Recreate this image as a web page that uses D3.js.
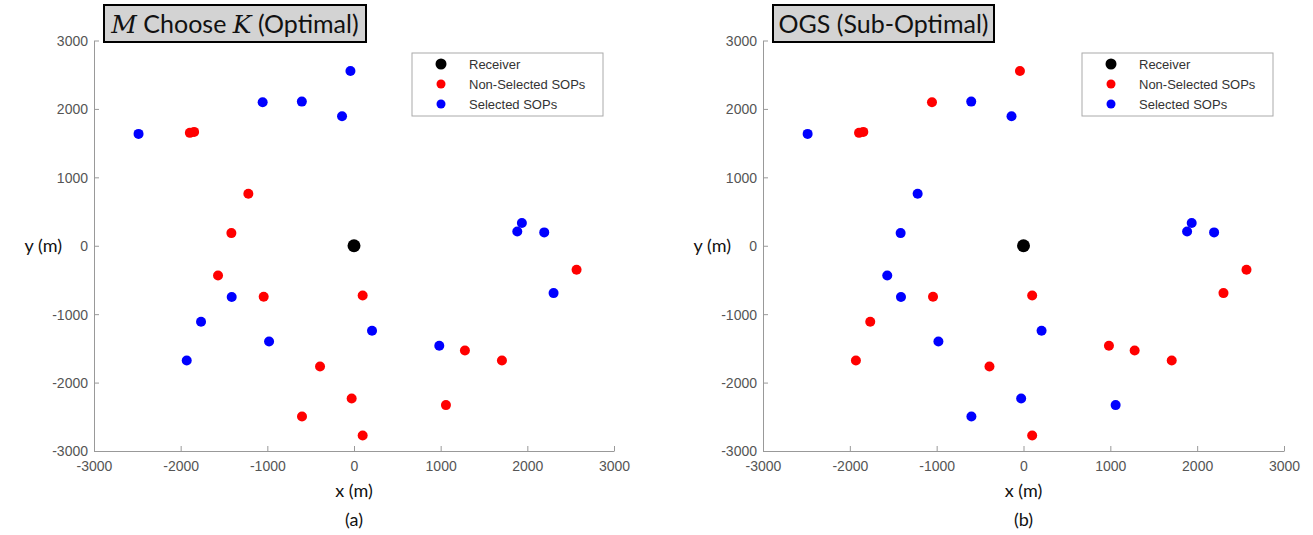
<!DOCTYPE html>
<html>
<head>
<meta charset="utf-8">
<title>SOP selection</title>
<script src="https://cdn.jsdelivr.net/npm/d3@7"></script>
<style>
  body { margin: 0; background: #fff; }
  .tick text { font-family: "Liberation Sans", Arial, sans-serif; font-size: 14px; fill: #555; }
  .lbl { font-family: Lato, "Open Sans", sans-serif; font-size: 18px; fill: #111; }
  .leg { font-family: "Liberation Sans", Arial, sans-serif; font-size: 13px; fill: #333; }
</style>
</head>
<body>
<div id="chart"></div>
<script>
// SOP positions (m), same in both panels
var sopX = [-2486, -1894, -1845, -1054, -602, -138, -41, -1219, -1415, -1569, -1411, -1042,
            -1765, -980, -1930, -392, -600, -27, 100, 100, 208, 984, 1280, 1707, 1061,
            1937, 1884, 2195, 2303, 2568];
var sopY = [1635, 1650, 1664, 2098, 2107, 1893, 2555, 760, 185, -434, -750, -746,
            -1111, -1399, -1677, -1764, -2495, -2232, -2773, -726, -1243, -1462, -1530, -1677, -2329,
            332, 209, 195, -692, -351];
// 1 = selected, 0 = not selected
var selOptimal = [1, 0, 0, 1, 1, 1, 1, 0, 0, 0, 1, 0,
                  1, 1, 1, 0, 0, 0, 0, 0, 1, 1, 0, 0, 0,
                  1, 1, 1, 1, 0];
var selOGS     = [1, 0, 0, 0, 1, 1, 0, 1, 1, 1, 1, 0,
                  0, 1, 0, 0, 1, 1, 0, 0, 1, 0, 0, 0, 1,
                  1, 1, 1, 0, 0];
var receiver = [0, 0];
var ticks = [-3000, -2000, -1000, 0, 1000, 2000, 3000];
var legendLabels = ["Receiver", "Non-Selected SOPs", "Selected SOPs"];
var legendColors = ["#000000", "#ff0000", "#0000ff"];

var w = 1313, h = 535;
var svg = d3.select("#chart").append("svg").attr("width", w).attr("height", h);

function panel(left, right, sel, title, caption, boxX, boxW) {
  var x = d3.scaleLinear().domain([-3000, 3000]).range([left, right]);
  var y = d3.scaleLinear().domain([-3000, 3000]).range([451, 40.5]);
  var g = svg.append("g");
  var fmt = function(d) { return String(d); };

  var xa = g.append("g").attr("transform", "translate(0,451)")
    .call(d3.axisBottom(x).tickValues(ticks).tickSize(-5).tickSizeOuter(0).tickPadding(10).tickFormat(fmt));
  var ya = g.append("g").attr("transform", "translate(" + left + ",0)")
    .call(d3.axisLeft(y).tickValues(ticks).tickSize(-5).tickSizeOuter(0).tickPadding(6).tickFormat(fmt));
  [xa, ya].forEach(function(a) {
    a.select(".domain").attr("stroke", "#999");
    a.selectAll(".tick line").attr("stroke", "#999");
  });
  ya.selectAll(".tick text").attr("dy", "0.35em");

  // points
  g.selectAll("circle.sop").data(sopX).enter().append("circle")
    .attr("class", "sop")
    .attr("cx", function(d) { return x(d); })
    .attr("cy", function(d, i) { return y(sopY[i]); })
    .attr("r", 5)
    .attr("fill", function(d, i) { return sel[i] ? "#0000ff" : "#ff0000"; });
  g.append("circle").attr("cx", x(receiver[0])).attr("cy", y(receiver[1])).attr("r", 6.5).attr("fill", "#000");

  // axis labels
  g.append("text").attr("class", "lbl").attr("x", x(0)).attr("y", 497).attr("text-anchor", "middle").text("x (m)");
  g.append("text").attr("class", "lbl").attr("x", x(0)).attr("y", 526).attr("text-anchor", "middle").text(caption);
  g.append("text").attr("class", "lbl").attr("x", left - 32).attr("y", 252).attr("text-anchor", "end").text("y (m)");

  // title box
  g.append("rect").attr("x", boxX).attr("y", 5).attr("width", boxW).attr("height", 37)
    .attr("fill", "#d3d3d3").attr("stroke", "#000").attr("stroke-width", 2);
  var t = g.append("text").attr("class", "lbl").style("font-size", "25px")
    .attr("x", boxX + boxW / 2).attr("y", 33).attr("text-anchor", "middle");
  title.forEach(function(p) {
    var s = t.append("tspan").text(p.t);
    if (p.it) s.style("font-family", "'DejaVu Serif', serif").style("font-style", "italic");
  });

  // legend
  var lx = right - 202, ly = 53;
  g.append("rect").attr("x", lx).attr("y", ly).attr("width", 191).attr("height", 63)
    .attr("fill", "#fff").attr("stroke", "#aaa");
  legendLabels.forEach(function(l, i) {
    g.append("circle").attr("cx", lx + 29).attr("cy", ly + 11 + i * 20).attr("r", i === 0 ? 5.5 : 4.5).attr("fill", legendColors[i]);
    g.append("text").attr("class", "leg").attr("x", lx + 57).attr("y", ly + 16 + i * 20).text(l);
  });
}

panel(94, 614, selOptimal, [{t: "M", it: true}, {t: " Choose "}, {t: "K", it: true}, {t: " (Optimal)"}], "(a)", 104, 262);
panel(763, 1284, selOGS, [{t: "OGS (Sub-Optimal)"}], "(b)", 773, 221);
</script>
</body>
</html>
